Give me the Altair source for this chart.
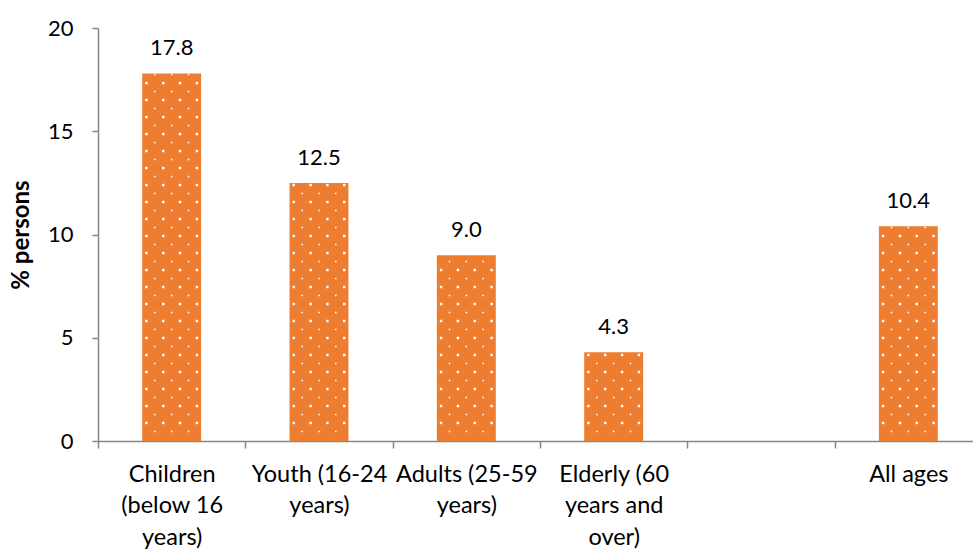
import altair as alt
import pandas as pd

categories = ["Children|(below 16|years)", "Youth (16-24|years)", "Adults (25-59|years)",
              "Elderly (60|years and|over)", "All ages"]
values = [17.8, 12.5, 9.0, 4.3, 10.4]
y_ticks = [0, 5, 10, 15, 20]

domain = categories[:4] + [" "] + categories[4:]
df = pd.DataFrame({"cat": categories, "value": values,
                   "idx": [domain.index(c) for c in categories]})

ORANGE = "#ED7D31"
GRAY = "#868686"
FONT = "Lato"
W = 884

x_enc = alt.X("cat:N", sort=domain,
              scale=alt.Scale(domain=domain, paddingInner=0.6, paddingOuter=0.3),
              axis=alt.Axis(title=None, labelAngle=0,
                            labelExpr="datum.value ? split(datum.value, '|') : ''",
                            ticks=True, tickOffset=-W / 12, labelOffset=W / 12,
                            tickSize=7, tickWidth=1.5,
                            tickColor=GRAY, domainColor=GRAY, domainWidth=1.5,
                            labelFontSize=23.5, labelFont=FONT, labelColor="#000000",
                            labelLineHeight=31.5, labelPadding=14, labelBaseline="top"))
y_enc = alt.Y("value:Q", scale=alt.Scale(domain=[0, 20]),
              axis=alt.Axis(title="% persons", values=y_ticks, grid=False, tickSize=6,
                            tickWidth=1.5, domainWidth=1.5,
                            tickColor=GRAY, domainColor=GRAY, labelFontSize=22, labelFont=FONT,
                            labelColor="#000000", labelPadding=19, titleFontSize=24,
                            titleFont=FONT, titleFontWeight="bold", titleColor="#000000",
                            titlePadding=14))

base = alt.Chart(df)
bars = base.mark_bar(color=ORANGE).encode(x=x_enc, y=y_enc)

labels = base.mark_text(baseline="alphabetic", dy=-18, fontSize=22, font=FONT,
                        color="#000000").encode(
    x=alt.X("cat:N", sort=domain), y=alt.Y("value:Q"),
    text=alt.Text("value:Q", format=".1f"))

bar_layer = alt.layer(bars, labels)

dots = base.transform_calculate(
    rows="sequence(1, floor((datum.value - 0.05) / 0.4115) + 1)"
).transform_flatten(["rows"], as_=["j"]).transform_calculate(
    ydot="0.05 + datum.j * 0.4115",
    cols="datum.j % 2 == 0 ? [0, 2, 4, 6] : [1, 3, 5]",
    sz="datum.j % 2 == 0 ? 6 : 2.5"
).transform_flatten(["cols"], as_=["c"]).transform_calculate(
    xdot="datum.idx + 0.3 + (datum.c + 0.5) * 0.4 / 7"
).mark_point(
    shape="square", filled=True, color="white", opacity=1
).encode(
    x=alt.X("xdot:Q", scale=alt.Scale(domain=[0, 6], nice=False, zero=False), axis=None),
    y=alt.Y("ydot:Q"),
    size=alt.Size("sz:Q", scale=None, legend=None),
)

chart = alt.layer(bar_layer, dots).resolve_scale(x="independent").properties(
    width=W, height=413,
    autosize=alt.AutoSizeParams(type="none"),
    padding={"left": 98, "top": 28, "right": -9, "bottom": 110},
).configure_view(stroke=None)

chart.save("out.html", embed_options={"renderer": "svg", "actions": False})
